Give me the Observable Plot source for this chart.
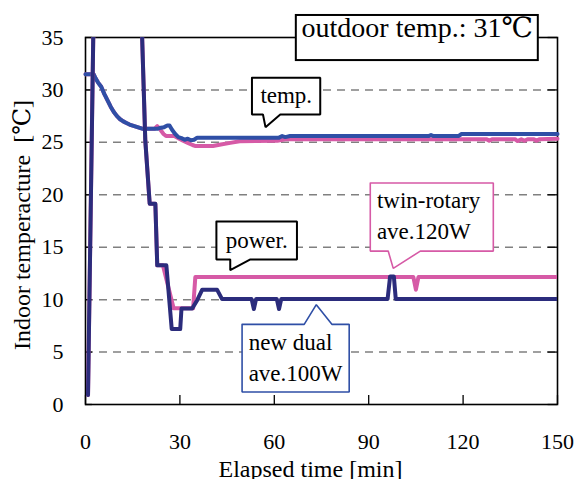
<!DOCTYPE html>
<html>
<head>
<meta charset="utf-8">
<script src="https://cdn.jsdelivr.net/npm/d3@7"></script>
<script src="https://cdn.jsdelivr.net/npm/@observablehq/plot@0.6"></script>
<style>
  html, body { margin: 0; padding: 0; background: #ffffff; }
  #chart svg, #chart svg text { font-family: "Liberation Serif", "DejaVu Serif", serif !important; }
</style>
</head>
<body>
<div id="chart"></div>
<script>
// ---------- data (minutes, value) ----------
const xTicks = [0, 30, 60, 90, 120, 150];
const yTicks = [0, 5, 10, 15, 20, 25, 30, 35];
const gridY = [5, 10, 15, 20, 25, 30];

// indoor temperature, new dual (blue)
const tempDual = [
  [0,31.5],[2.6,31.5],[3.2,31.1],[4,30.7],[5,30.3],[6,29.6],[7,29.0],[8,28.4],[9,27.9],
  [10,27.5],[11,27.2],[12,27.0],[13,26.85],[14,26.7],[15,26.6],[16,26.5],[17,26.4],[18,26.3],
  [23,26.3],[24,26.4],[25,26.45],[26,26.6],[26.7,26.6],[27.5,26.2],[28.5,25.8],[29.5,25.5],
  [30.5,25.4],[31.5,25.25],[32.5,25.35],[33.5,25.2],[34.5,25.25],[35.5,25.45],[61.5,25.45],
  [62.5,25.6],[63.5,25.5],[65,25.6],[109,25.6],[109.8,25.7],[110.6,25.6],[118.5,25.6],
  [119.5,25.8],[150,25.8]
];
// indoor temperature, twin-rotary (pink)
const tempTwin = [
  [0,31.5],[2.6,31.5],[3.2,31.1],[4,30.7],[5,30.3],[6,29.6],[7,29.0],[8,28.4],[9,27.9],
  [10,27.5],[11,27.2],[12,27.0],[13,26.85],[14,26.7],[15,26.6],[16,26.5],[17,26.4],[18,26.3],
  [22,26.3],[22.8,26.55],[23.8,26.2],[24.8,25.8],[25.6,25.6],[28.2,25.6],[29.5,25.4],
  [31,25.15],[32.5,24.95],[34,24.75],[35,24.65],[40.5,24.65],[43,24.8],[46,24.95],[49,25.1],
  [61,25.15],[63.5,25.3],[127.5,25.3],[128.3,25.15],[129.2,25.3],[136.5,25.3],[137.3,25.12],
  [138.5,25.3],[139.5,25.15],[140.5,25.3],[142.5,25.3],[143.3,25.15],[144.2,25.3],[150,25.35]
];
// power (x10 W), new dual (navy)
const powerDual = [
  [0.8,0.9],[2.8,42],[17.3,42],[18.0,35],[19.0,25.2],[20.4,19.15],[22.2,19.15],[22.8,13.27],
  [25.7,13.27],[27.4,7.2],[30.1,7.2],[30.5,9.15],[33.9,9.15],[35.5,9.95],[37.1,10.95],
  [41.8,10.95],[43.4,10.05],[52.8,10.05],[53.5,9.1],[54.2,10.05],[60.8,10.05],[61.5,9.1],
  [62.2,10.05],[96.0,10.05],[96.8,12.2],[98.0,12.2],[98.6,10.05],[150,10.05]
];
// power (x10 W), twin-rotary (pink)
const powerTwin = [
  [0.8,0.9],[2.8,42],[17.3,42],[18.0,35],[19.0,25.2],[20.4,19.15],[22.2,19.15],[22.8,13.27],
  [24.6,13.27],[28.0,9.17],[34.2,9.17],[34.9,12.15],[104.2,12.15],[105,10.95],[105.8,12.15],
  [150,12.15]
];

// ---------- annotation layout (in data units) ----------
const calloutTemp = [[52.9,31.16],[74.6,31.16],[74.6,27.66],[61.9,27.66],[57.2,26.45],[56.4,27.66],[52.9,27.66],[52.9,31.16]];
const calloutPower = [[41.6,17.46],[67.2,17.46],[67.2,13.84],[52.4,13.84],[46.0,12.81],[46.0,13.84],[41.6,13.84],[41.6,17.46]];
const calloutTwin = [[90.5,21.12],[129.6,21.12],[129.6,14.63],[106.4,14.63],[97.8,12.98],[96.2,14.63],[90.5,14.63],[90.5,21.12]];
const calloutDual = [[49.76,7.645],[69.5,7.645],[73.35,9.52],[78.3,7.645],[83.8,7.645],[83.8,1.19],[49.76,1.19],[49.76,7.645]];
const centerLabels = [
  {x: 63.8, y: 29.45, t: "temp."},
  {x: 54.4, y: 15.63, t: "power."}
];
const leftLabels = [
  {x: 92.6, y: 19.4, t: "twin-rotary"},
  {x: 92.6, y: 16.5, t: "ave.120W"},
  {x: 51.85, y: 5.86, t: "new dual"},
  {x: 51.85, y: 2.94, t: "ave.100W"}
];
const outdoorBox = [{x1: 67.0, x2: 143.9, y1: 32.8, y2: 37.1}];
const outdoorText = [{x: 105.4, y: 35.95, t: "outdoor temp.: 31℃"}];

const BLUE = "#2f4fa6";
const NAVY = "#2b2c7c";
const PINK = "#d65aa6";
const FONT = "Liberation Serif, DejaVu Serif, serif";
const X = d => d[0], Y = d => d[1];

const chart = Plot.plot({
  width: 576,
  height: 479,
  marginLeft: 85,
  marginRight: 19,
  marginTop: 37,
  marginBottom: 75,
  x: {domain: [0, 150]},
  y: {domain: [0, 35]},
  style: {fontSize: "22px", background: "#ffffff", color: "#000000"},
  marks: [
    Plot.ruleY(gridY, {x1: 0, x2: 150, stroke: "#808080", strokeWidth: 1.5, strokeDasharray: "8,6"}),
    Plot.ruleY(yTicks, {x1: 0, x2: 2.2, stroke: "#000", strokeWidth: 1.3}),
    Plot.ruleY(yTicks, {x1: 147, x2: 150, stroke: "#000", strokeWidth: 1.3}),
    Plot.ruleX(xTicks, {y1: 0, y2: 0.85, stroke: "#000", strokeWidth: 1.3}),
    Plot.axisX(xTicks, {tickSize: 0, tickPadding: 29, fontSize: 22, label: null}),
    Plot.axisY(yTicks, {tickSize: 0, tickPadding: 22, fontSize: 22, label: null}),
    Plot.frame({stroke: "#000", strokeWidth: 1.6}),
    Plot.line(tempTwin, {x: X, y: Y, stroke: PINK, strokeWidth: 4, strokeLinejoin: "round"}),
    Plot.line(tempDual, {x: X, y: Y, stroke: BLUE, strokeWidth: 4, strokeLinejoin: "round"}),
    Plot.line(powerTwin, {x: X, y: Y, stroke: PINK, strokeWidth: 4, strokeLinejoin: "round", clip: true}),
    Plot.line(powerDual, {x: X, y: Y, stroke: NAVY, strokeWidth: 4, strokeLinejoin: "round", clip: true}),
    Plot.line(calloutTemp, {x: X, y: Y, stroke: "#000", fill: "#fff", strokeWidth: 2, strokeLinejoin: "miter"}),
    Plot.line(calloutPower, {x: X, y: Y, stroke: "#000", fill: "#fff", strokeWidth: 2, strokeLinejoin: "miter"}),
    Plot.line(calloutTwin, {x: X, y: Y, stroke: PINK, fill: "#fff", strokeWidth: 1.6, strokeLinejoin: "miter"}),
    Plot.line(calloutDual, {x: X, y: Y, stroke: BLUE, fill: "#fff", strokeWidth: 1.6, strokeLinejoin: "miter"}),
    Plot.text(centerLabels, {x: "x", y: "y", text: "t", fontSize: 23, fontFamily: FONT, fill: "#000", lineAnchor: "middle"}),
    Plot.text(leftLabels, {x: "x", y: "y", text: "t", fontSize: 23, fontFamily: FONT, fill: "#000", textAnchor: "start", lineAnchor: "middle"}),
    Plot.rect(outdoorBox, {x1: "x1", x2: "x2", y1: "y1", y2: "y2", fill: "#fff", stroke: "#000", strokeWidth: 2}),
    Plot.text(outdoorText, {x: "x", y: "y", text: "t", fontSize: 28, fontFamily: FONT, fill: "#000", lineAnchor: "middle"}),
    Plot.text(["Elapsed time [min]"], {frameAnchor: "bottom", dy: 65, dx: -11, fontSize: 24, fontFamily: FONT, fill: "#000", textAnchor: "middle", lineAnchor: "middle"}),
    Plot.text(["Indoor temperacture \u00a0[℃]"], {frameAnchor: "left", rotate: -90, dx: -63, dy: 4, fontSize: 24, fontFamily: FONT, fill: "#000", textAnchor: "middle", lineAnchor: "middle"})
  ]
});
document.getElementById("chart").appendChild(chart);
</script>
</body>
</html>
